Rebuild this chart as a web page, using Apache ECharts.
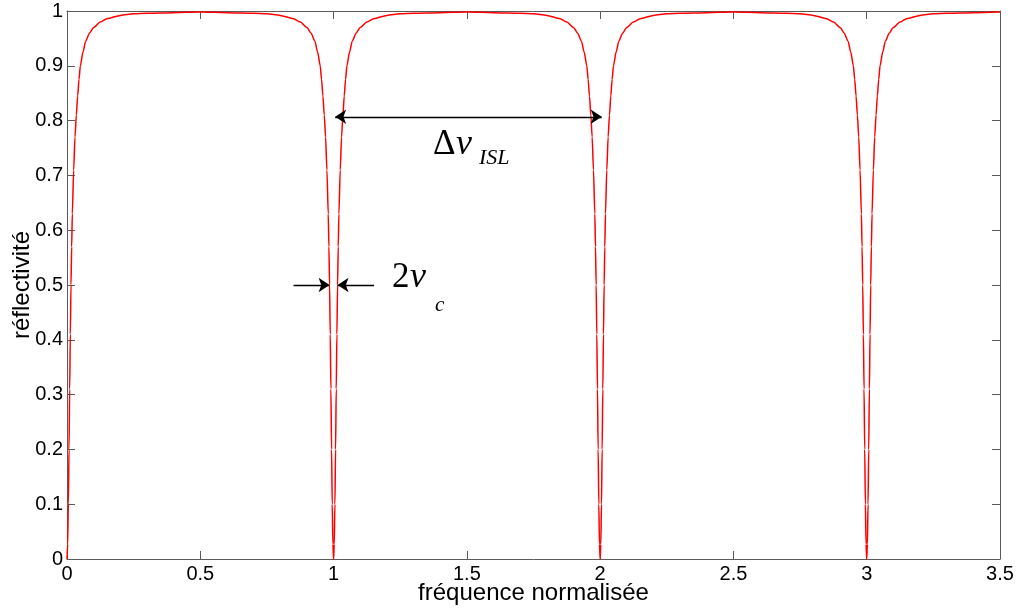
<!DOCTYPE html>
<html>
<head>
<meta charset="utf-8">
<title>réflectivité</title>
<script src="https://cdn.jsdelivr.net/npm/echarts@6/dist/echarts.min.js"></script>
<style>
  html, body { margin: 0; padding: 0; background: #ffffff; }
  #chart { width: 1020px; height: 615px; }
</style>
</head>
<body>
<div id="chart"></div>
<script>
// Resonance dips of the reflectivity, one per integer normalised frequency
const dipCentres = [0, 1, 2, 3];
// Distance from a dip centre (normalised frequency) and the reflectivity there
const dipOffsets = [0, 0.0025, 0.005, 0.0075, 0.01, 0.0125, 0.015, 0.0175, 0.02, 0.025,
  0.03, 0.035, 0.04, 0.045, 0.05, 0.06, 0.07, 0.085, 0.1, 0.125, 0.15, 0.2, 0.25, 0.3, 0.4, 0.5];
const dipReflect = [0, 0.027, 0.10, 0.20, 0.31, 0.41, 0.50, 0.57, 0.63, 0.71,
  0.77, 0.81, 0.845, 0.875, 0.90, 0.925, 0.945, 0.96, 0.97, 0.98, 0.986, 0.992, 0.995, 0.996, 0.997, 0.998];

// Axis ranges and ticks
const xTicks = { min: 0, max: 3.5, interval: 0.5 };
const yTicks = { min: 0, max: 1, interval: 0.1 };

// Annotation arrows (frequency, reflectivity)
const islArrow = [[1.006, 0.807], [2.006, 0.807]];
const widthArrowLeft = [[0.85, 0.5], [0.985, 0.5]];
const widthArrowRight = [[1.152, 0.5], [1.015, 0.5]];

// Assemble the curve from the dip profile, left flank then right flank
const curve = [];
const n = dipOffsets.length;
dipCentres.forEach(function (c) {
  if (c > 0) {
    for (let i = n - 2; i >= 1; i--) curve.push([c - dipOffsets[i], dipReflect[i]]);
  }
  curve.push([c, dipReflect[0]]);
  for (let i = 1; i < n; i++) curve.push([c + dipOffsets[i], dipReflect[i]]);
});

const sans = "'Liberation Sans', Arial, Helvetica, sans-serif";
const serif = "'Liberation Serif', 'Times New Roman', serif";
const frameColor = '#5a5a5a';

function frameAxis(extra) {
  return Object.assign({
    type: 'value',
    axisLine: { show: true, onZero: false, lineStyle: { color: frameColor, width: 1 } },
    axisTick: { show: true, inside: true, length: 8, lineStyle: { color: frameColor } },
    splitLine: { show: false },
    axisLabel: { show: false }
  }, extra);
}

const chart = echarts.init(document.getElementById('chart'), null, { renderer: 'canvas' });

const option = {
  animation: false,
  backgroundColor: '#ffffff',
  grid: { left: 67, top: 11, right: 20, bottom: 56, containLabel: false, outerBoundsMode: 'none' },
  xAxis: [
    frameAxis({
      position: 'bottom',
      min: xTicks.min, max: xTicks.max, interval: xTicks.interval,
      axisLabel: { show: true, color: '#000', fontFamily: sans, fontSize: 20, margin: 5 },
      name: 'fréquence normalisée',
      nameLocation: 'middle',
      nameGap: 22,
      nameMoveOverlap: false,
      nameTextStyle: { color: '#000', fontFamily: sans, fontSize: 24 }
    }),
    frameAxis({ position: 'top', min: xTicks.min, max: xTicks.max, interval: xTicks.interval })
  ],
  yAxis: [
    frameAxis({
      position: 'left',
      min: yTicks.min, max: yTicks.max, interval: yTicks.interval,
      axisLabel: { show: true, color: '#000', fontFamily: sans, fontSize: 20, margin: 4 },
      name: 'réflectivité',
      nameLocation: 'middle',
      nameGap: 33,
      nameMoveOverlap: false,
      nameTextStyle: { color: '#000', fontFamily: sans, fontSize: 24 }
    }),
    frameAxis({ position: 'right', min: yTicks.min, max: yTicks.max, interval: yTicks.interval })
  ],
  series: [
    {
      type: 'line',
      xAxisIndex: 0,
      yAxisIndex: 0,
      data: curve,
      showSymbol: false,
      smooth: 0.25,
      smoothMonotone: 'x',
      clip: true,
      lineStyle: { color: '#ff0000', width: 1.5 },
      z: 2,
      markLine: {
        silent: true,
        animation: false,
        symbolSize: 11,
        label: { show: false },
        lineStyle: { color: '#000', width: 1.4, type: 'solid' },
        emphasis: { disabled: true },
        data: [
          [{ coord: islArrow[0], symbol: 'arrow' }, { coord: islArrow[1], symbol: 'arrow' }],
          [{ coord: widthArrowLeft[0], symbol: 'none' }, { coord: widthArrowLeft[1], symbol: 'arrow' }],
          [{ coord: widthArrowRight[0], symbol: 'none' }, { coord: widthArrowRight[1], symbol: 'arrow' }]
        ]
      }
    }
  ],
  graphic: [
    { type: 'text', x: 433, y: 145, style: { text: 'Δ', font: '35px ' + serif, fill: '#000', verticalAlign: 'middle', align: 'left' } },
    { type: 'text', x: 456, y: 145, style: { text: 'ν', font: 'italic 36px ' + serif, fill: '#000', verticalAlign: 'middle', align: 'left' } },
    { type: 'text', x: 479, y: 158, style: { text: 'ISL', font: 'italic 22px ' + serif, fill: '#000', verticalAlign: 'middle', align: 'left' } },
    { type: 'text', x: 392, y: 278, style: { text: '2', font: '35px ' + serif, fill: '#000', verticalAlign: 'middle', align: 'left' } },
    { type: 'text', x: 410, y: 278, style: { text: 'ν', font: 'italic 36px ' + serif, fill: '#000', verticalAlign: 'middle', align: 'left' } },
    { type: 'text', x: 435, y: 305, style: { text: 'c', font: 'italic 21px ' + serif, fill: '#000', verticalAlign: 'middle', align: 'left' } }
  ]
};

chart.setOption(option);
</script>
</body>
</html>
